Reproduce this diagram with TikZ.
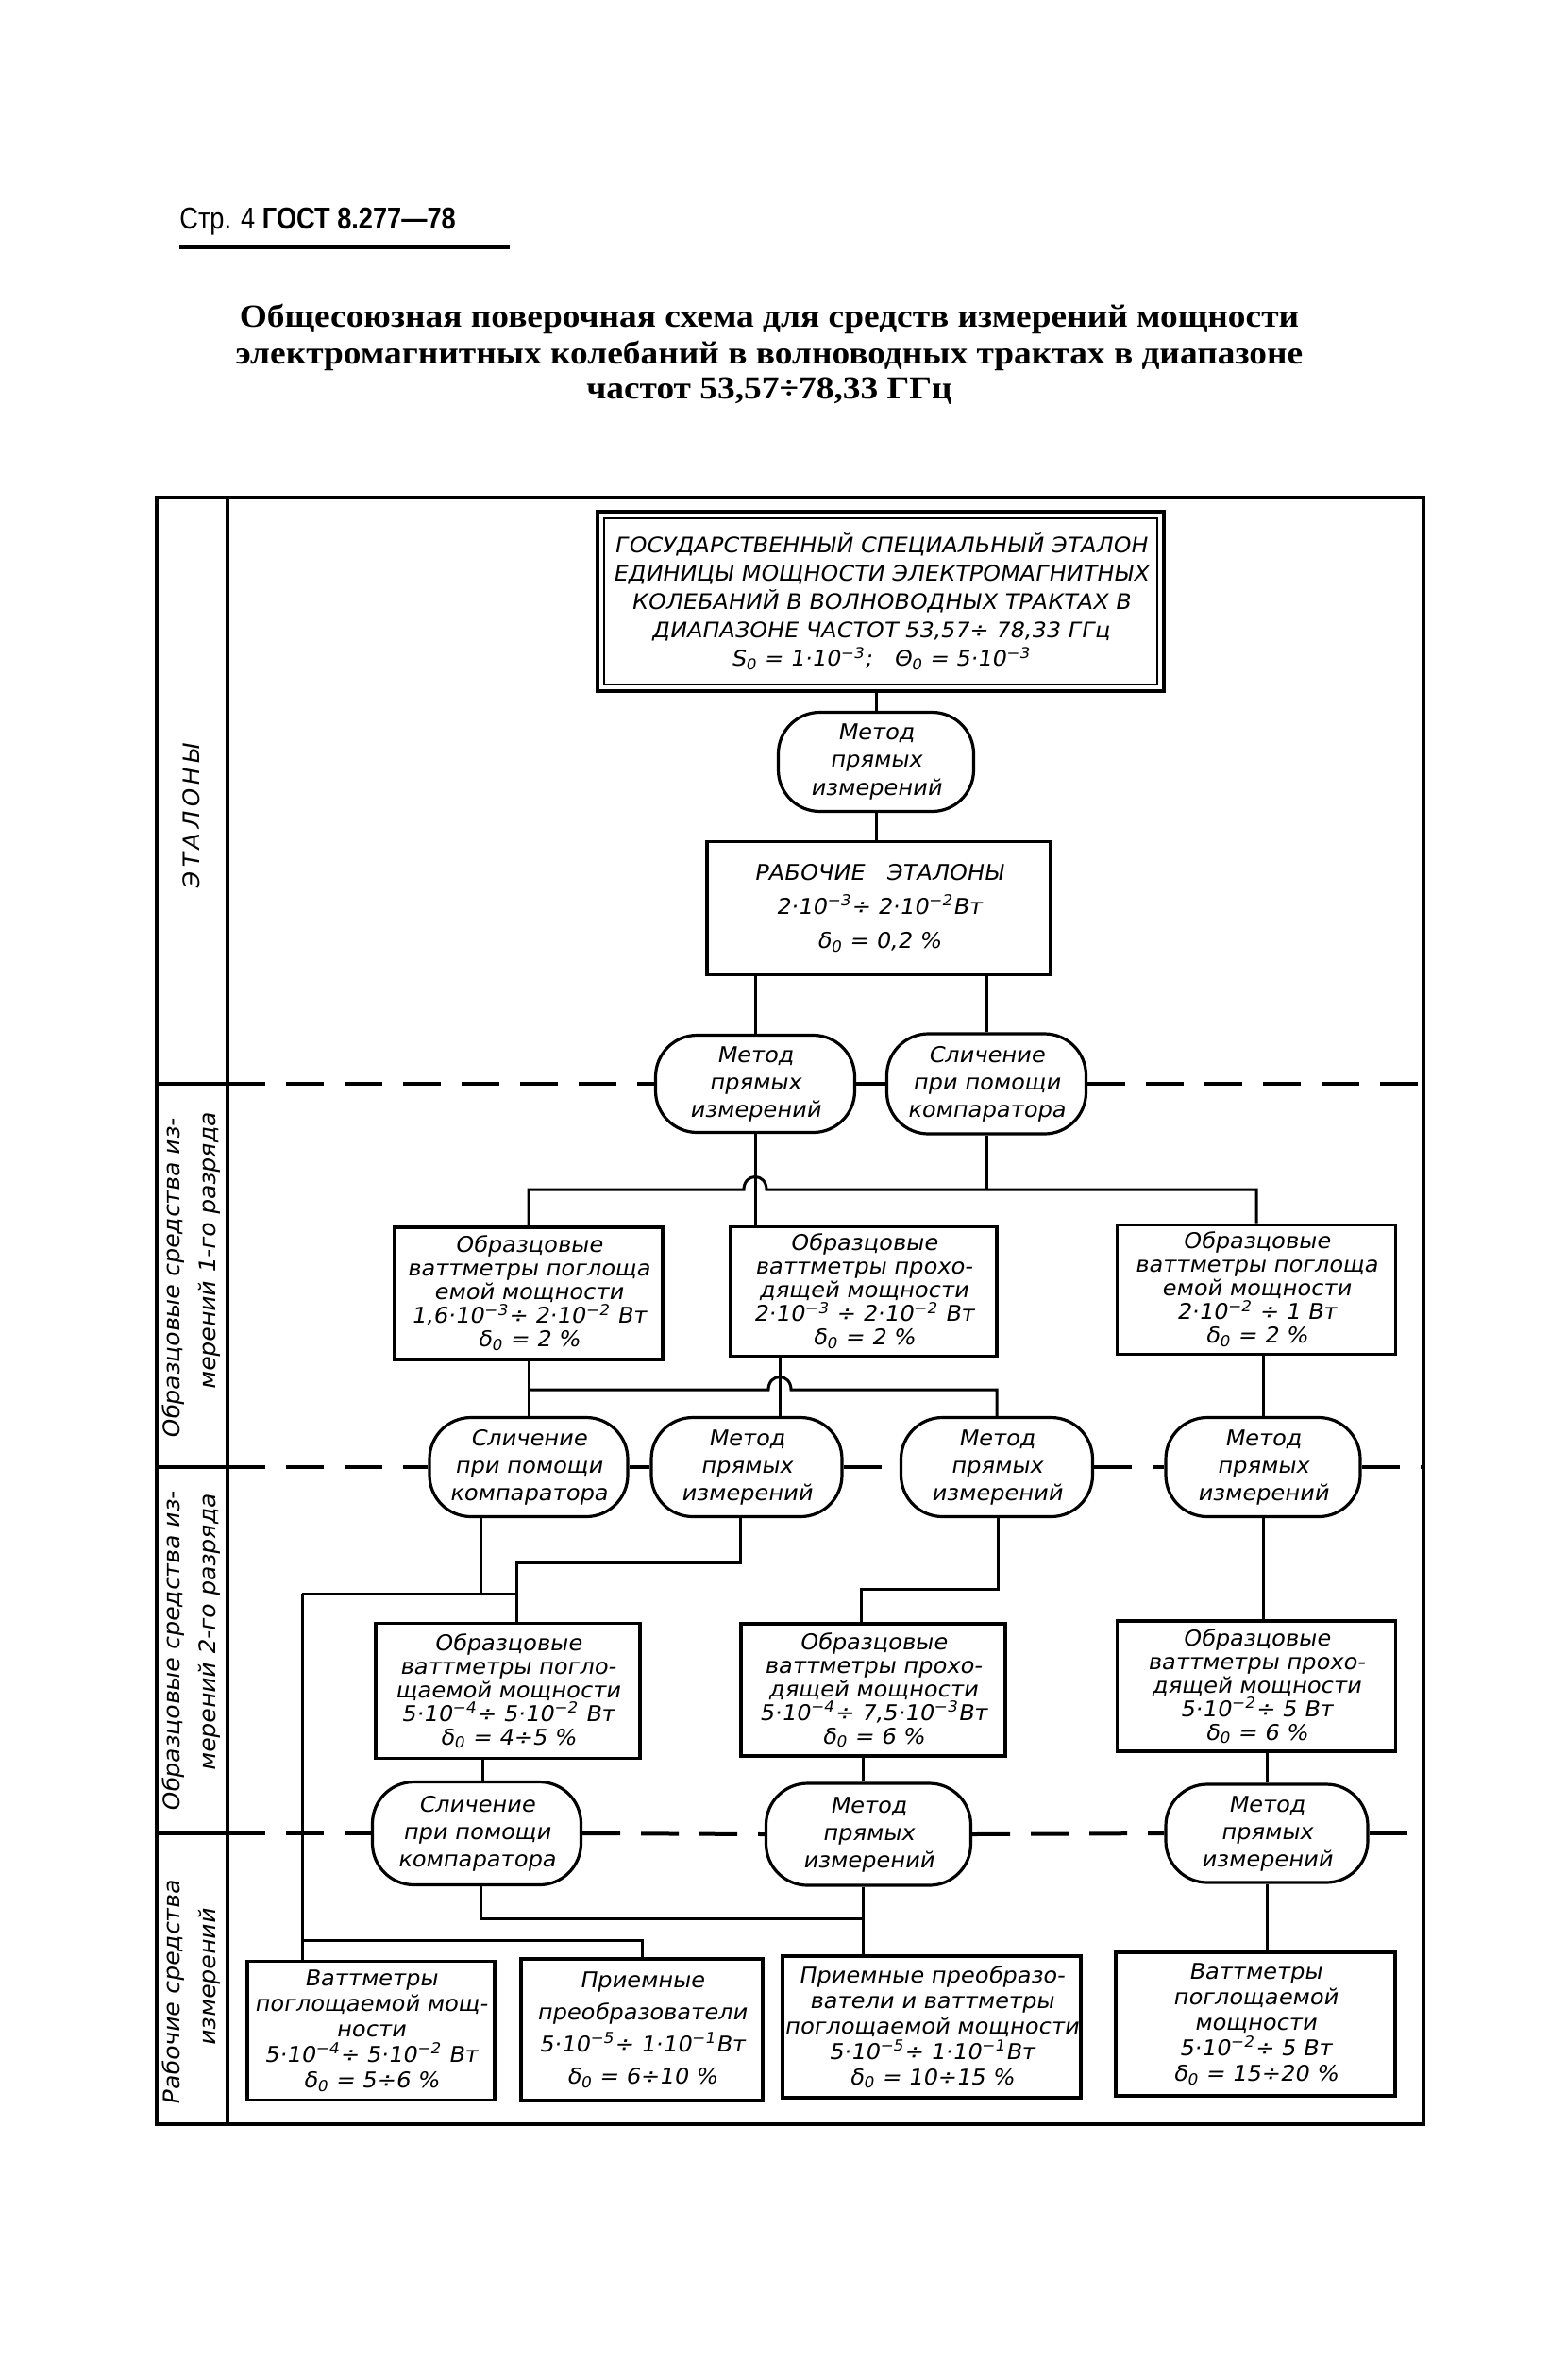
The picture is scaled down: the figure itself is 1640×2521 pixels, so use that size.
\documentclass[tikz,border=0pt]{standalone}
\usepackage{fontspec}
\newfontfamily\gost{DejaVu Sans}[FakeSlant=0.18,FakeStretch=1.05]
\newfontfamily\gostn{DejaVu Sans}[FakeSlant=0.18,FakeStretch=1.06]
\newfontfamily\hdrfont{Liberation Sans}[FakeStretch=0.85]
\newfontfamily\ttlfont{Liberation Serif}[FakeStretch=1.1]
\newcommand\supx[1]{\textsuperscript{#1}}
\newcommand\dzero{δ\textsubscript{0}}
\begin{document}
\begin{tikzpicture}[x=0.5pt,y=-0.5pt,
  frame/.style={line width=2.2pt},
  conn/.style={line width=1.5pt},
  dashln/.style={line width=2pt, dash pattern=on 20pt off 11pt},
  boxt/.style={draw, line width=1.8pt, align=center, inner sep=1pt, font={\gost\fontsize{11.5}{12.5}\selectfont}},
  boxb/.style={boxt, font={\gost\fontsize{11.5}{13.5}\selectfont}},
  methd/.style={draw, line width=1.6pt, rounded corners=22pt, align=center, inner sep=1pt, font={\gost\fontsize{11.5}{14.5}\selectfont}},
  lbl/.style={rotate=90, font={\gost\fontsize{12}{14}\selectfont}, inner sep=0}
]
\fill[white] (0,0) rectangle (1640,2521);
\useasboundingbox (0,0) rectangle (1640,2521);

% header
\node[anchor=base west, inner sep=0, font={\hdrfont\fontsize{16}{18}\selectfont}] (hdr) at (190,242) {Стр. 4 \textbf{ГОСТ 8.277—78}};
\draw[line width=2pt] (190,262) -- (540,262);

% title
\node[anchor=base, inner sep=0, font={\ttlfont\bfseries\fontsize{17}{20}\selectfont}] (t1) at (815,346) {Общесоюзная поверочная схема для средств измерений мощности};
\node[anchor=base, inner sep=0, font={\ttlfont\bfseries\fontsize{17}{20}\selectfont}] (t2) at (815,385) {электромагнитных колебаний в волноводных трактах в диапазоне};
\node[anchor=base, inner sep=0, font={\ttlfont\bfseries\fontsize{17}{20}\selectfont}] (t3) at (815,422) {частот 53,57÷78,33 ГГц};

% frame
\draw[frame] (166,527) rectangle (1508,2250);
\draw[frame] (241,527) -- (241,2250);
\coordinate (Lout) at (166,0);
\coordinate (Lin) at (241,0);
\coordinate (Rb) at (1508,0);

% column labels
\node[lbl] (l1) at (203,865) {Э\,Т\,А\,Л\,О\,Н\,Ы};
\node[lbl] (l2a) at (184,1355) {Образцовые средства из-};
\node[lbl] (l2b) at (222,1326) {мерений 1-го разряда};
\node[lbl] (l3a) at (184,1750) {Образцовые средства из-};
\node[lbl] (l3b) at (222,1730) {мерений 2-го разряда};
\node[lbl] (l4a) at (184,2111) {Рабочие средства};
\node[lbl] (l4b) at (222,2095) {измерений};

% top standard
\node[draw, line width=2.2pt, minimum width=300pt, minimum height=95pt, align=center, inner sep=1pt,
  font={\gostn\fontsize{11.3}{15}\selectfont}] (tb) at (933,637)
  {ГОСУДАРСТВЕННЫЙ СПЕЦИАЛЬНЫЙ ЭТАЛОН\\ЕДИНИЦЫ МОЩНОСТИ ЭЛЕКТРОМАГНИТНЫХ\\КОЛЕБАНИЙ В ВОЛНОВОДНЫХ ТРАКТАХ В\\ДИАПАЗОНЕ ЧАСТОТ 53,57÷ 78,33 ГГц\\S\textsubscript{0} = 1·10\supx{−3};\quad Θ\textsubscript{0} = 5·10\supx{−3}};
\draw[line width=1.1pt] ([shift={(4.5pt,-4.5pt)}]tb.north west) rectangle ([shift={(-4.5pt,4.5pt)}]tb.south east);

\node[methd, minimum width=103.5pt, minimum height=52.5pt] (m0) at (928,807) {Метод\\прямых\\измерений};
\node[boxt, minimum width=182pt, minimum height=70.5pt, font={\gost\fontsize{11.5}{18}\selectfont}] (re) at (931,962) {РАБОЧИЕ\quad ЭТАЛОНЫ\\2·10\supx{−3}÷ 2·10\supx{−2}Вт\\\dzero{} = 0,2 \%};

\node[methd, minimum width=105.5pt, minimum height=51.5pt] (ma) at (800,1148) {Метод\\прямых\\измерений};
\node[methd, minimum width=105.5pt, minimum height=53pt] (mb) at (1045,1148) {Сличение\\при помощи\\компаратора};

\node[boxt, minimum width=142pt, minimum height=70pt] (bA) at (560,1370) {Образцовые\\ваттметры поглоща\\емой мощности\\1,6·10\supx{−3}÷ 2·10\supx{−2} Вт\\\dzero{} = 2 \%};
\node[boxt, minimum width=141pt, minimum height=68.5pt] (bB) at (915,1368) {Образцовые\\ваттметры прохо-\\дящей мощности\\2·10\supx{−3} ÷ 2·10\supx{−2} Вт\\\dzero{} = 2 \%};
\node[boxt, minimum width=147.5pt, minimum height=68.5pt] (bC) at (1331,1366) {Образцовые\\ваттметры поглоща\\емой мощности\\2·10\supx{−2} ÷ 1 Вт\\\dzero{} = 2 \%};

\node[methd, minimum width=105pt, minimum height=52.5pt] (e1) at (560,1554) {Сличение\\при помощи\\компаратора};
\node[methd, minimum width=101pt, minimum height=52.5pt] (e2) at (791,1554) {Метод\\прямых\\измерений};
\node[methd, minimum width=101.5pt, minimum height=52.5pt] (e3) at (1056,1554) {Метод\\прямых\\измерений};
\node[methd, minimum width=103pt, minimum height=52.5pt] (e4) at (1338,1554) {Метод\\прямых\\измерений};

\node[boxt, minimum width=140pt, minimum height=71.5pt] (bD) at (538,1791) {Образцовые\\ваттметры погло-\\щаемой мощности\\5·10\supx{−4}÷ 5·10\supx{−2} Вт\\\dzero{} = 4÷5 \%};
\node[boxt, minimum width=140pt, minimum height=70pt] (bE) at (925,1790) {Образцовые\\ваттметры прохо-\\дящей мощности\\5·10\supx{−4}÷ 7,5·10\supx{−3}Вт\\\dzero{} = 6 \%};
\node[boxt, minimum width=147.5pt, minimum height=69pt] (bF) at (1331,1786) {Образцовые\\ваттметры прохо-\\дящей мощности\\5·10\supx{−2}÷ 5 Вт\\\dzero{} = 6 \%};

\node[methd, minimum width=110.5pt, minimum height=54.5pt] (e5) at (505,1942) {Сличение\\при помощи\\компаратора};
\node[methd, minimum width=108.5pt, minimum height=54pt] (e6) at (920,1943) {Метод\\прямых\\измерений};
\node[methd, minimum width=107pt, minimum height=52pt] (e7) at (1342,1942) {Метод\\прямых\\измерений};

\node[boxb, minimum width=131pt, minimum height=73.5pt] (w1) at (393,2151) {Ваттметры\\поглощаемой мощ-\\ности\\5·10\supx{−4}÷ 5·10\supx{−2} Вт\\\dzero{} = 5÷6 \%};
\node[boxb, minimum width=128pt, minimum height=75pt, font={\gost\fontsize{11.5}{17}\selectfont}] (w2) at (680,2150) {Приемные\\преобразователи\\5·10\supx{−5}÷ 1·10\supx{−1}Вт\\\dzero{} = 6÷10 \%};
\node[boxb, minimum width=155pt, minimum height=75pt] (w3) at (987,2147) {Приемные преобразо-\\ватели и ваттметры\\поглощаемой мощности\\5·10\supx{−5}÷ 1·10\supx{−1}Вт\\\dzero{} = 10÷15 \%};
\node[boxb, minimum width=148pt, minimum height=76pt] (w4) at (1330,2144) {Ваттметры\\поглощаемой\\мощности\\5·10\supx{−2}÷ 5 Вт\\\dzero{} = 15÷20 \%};

% connectors top
\draw[conn] (m0.north) -- (m0.north |- tb.south);
\draw[conn] (m0.south) -- (m0.south |- re.north);
\draw[conn] (ma.north) -- (ma.north |- re.south);
\draw[conn] (mb.north) -- (mb.north |- re.south);

% bus 1
\coordinate (b1) at (0,1260);
\draw[conn] (bA.north) -- (bA.north |- b1) -- (788,1260) .. controls (788,1242) and (812,1242) .. (812,1260) -- (bC.north |- b1) -- (bC.north);
\draw[conn] (mb.south) -- (mb.south |- b1);
\draw[conn] (ma.south) -- (ma.south |- bB.north);

% bus 2
\coordinate (b2) at (0,1472);
\coordinate (x826) at (826,0);
\draw[conn] (bA.south) -- (bA.south |- e1.north);
\draw[conn] (bA.south |- b2) -- (814,1472) .. controls (814,1454) and (838,1454) .. (838,1472) -- (e3.north |- b2) -- (e3.north);
\draw[conn] (bB.south -| x826) -- (e2.north -| x826);
\draw[conn] (bC.south -| e4.north) -- (e4.north);

% row 2 connections
\coordinate (j1) at (509,1688);
\coordinate (j1l) at (320,1688);
\coordinate (j1r) at (547,1688);
\draw[conn] (e1.south -| j1) -- (j1);
\draw[conn] (j1l) -- (j1r);
\coordinate (k1) at (784,1655);
\coordinate (k2) at (547,1655);
\draw[conn] (e2.south -| k1) -- (k1) -- (k2) -- (bD.north -| k2);
\draw[conn] (j1l) -- (w1.north -| j1l);
\coordinate (q1) at (1057,1683);
\coordinate (q2) at (912,1683);
\draw[conn] (e3.south -| q1) -- (q1) -- (q2) -- (bE.north -| q2);
\draw[conn] (e4.south) -- (e4.south |- bF.north);

% row 3 connections
\coordinate (x511) at (511,0);
\coordinate (x914) at (914,0);
\draw[conn] (bD.south -| x511) -- (e5.north -| x511);
\draw[conn] (bE.south -| x914) -- (e6.north -| x914);
\draw[conn] (bF.south -| e7.north) -- (e7.north);
\coordinate (n1) at (509,2032);
\coordinate (n2) at (914,2032);
\draw[conn] (e5.south -| n1) -- (n1) -- (n2);
\draw[conn] (e6.south -| n2) -- (w3.north -| n2);
\draw[conn] (e7.south) -- (e7.south |- w4.north);
\coordinate (p1) at (320,2055);
\coordinate (p2) at (680,2055);
\draw[conn] (p1) -- (p2) -- (w2.north -| p2);

% dashed level lines
\draw[frame] (ma.west -| Lout) -- (ma.west -| Lin);
\draw[dashln] (ma.west -| Lin) -- (ma.west);
\draw[dashln] (ma.east) -- (mb.west);
\draw[dashln] (mb.east) -- (mb.east -| Rb);

\draw[frame] (e1.west -| Lout) -- (e1.west -| Lin);
\draw[dashln] (e1.west -| Lin) -- (e1.west);
\draw[dashln] (e1.east) -- (e2.west);
\draw[dashln] (e2.east) -- (e3.west);
\draw[dashln] (e3.east) -- (e4.west);
\draw[dashln] (e4.east) -- (e4.east -| Rb);

\draw[frame] (e5.west -| Lout) -- (e5.west -| Lin);
\draw[dashln] (e5.west -| Lin) -- (e5.west);
\draw[dashln] (e5.east) -- (e6.west);
\draw[dashln] (e6.east) -- (e7.west);
\draw[dashln] (e7.east) -- (e7.east -| Rb);
\end{tikzpicture}
\end{document}
